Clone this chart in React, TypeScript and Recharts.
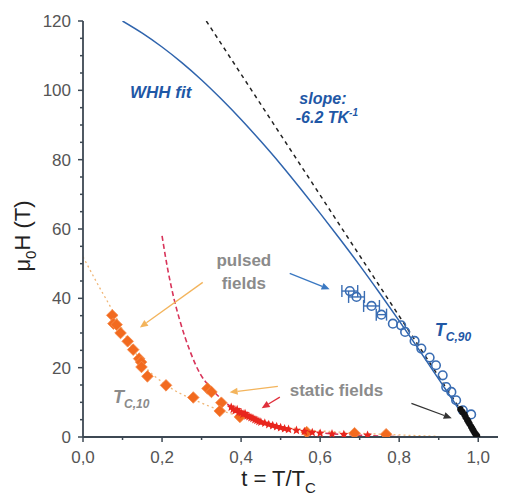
import React from 'react';
import {
  ComposedChart, XAxis, YAxis, Line, Scatter, ErrorBar,
  ReferenceLine, ReferenceDot, Label,
} from 'recharts';

const FONT = '"Liberation Sans", Arial, sans-serif';
const AXIS_COLOR = '#3d4853';
const TICK_COLOR = '#555555';
const BLUE = '#2f64ad';
const LABEL_BLUE = '#1f58a6';
const GRAY = '#8b8b8b';

const xTicks = [0, 0.1, 0.2, 0.3, 0.4, 0.5, 0.6, 0.7, 0.8, 0.9, 1.0];
const yTicks = [0, 5, 10, 15, 20, 25, 30, 35, 40, 45, 50, 55, 60, 65, 70, 75, 80, 85, 90, 95, 100, 105, 110, 115, 120];

// WHH fit (blue solid)
const whhFit = [
  { t: 0.1, h: 120 }, { t: 0.15, h: 116.5 }, { t: 0.2, h: 112.5 }, { t: 0.25, h: 108 },
  { t: 0.3, h: 103 }, { t: 0.35, h: 97.5 }, { t: 0.4, h: 91.6 }, { t: 0.45, h: 85.3 },
  { t: 0.5, h: 78.7 }, { t: 0.55, h: 71.7 }, { t: 0.6, h: 64.5 }, { t: 0.65, h: 57.1 },
  { t: 0.7, h: 49.5 }, { t: 0.75, h: 41.6 }, { t: 0.8, h: 33.5 }, { t: 0.85, h: 25.2 },
  { t: 0.9, h: 16.7 }, { t: 0.95, h: 8.2 }, { t: 1.0, h: 0 },
];

// initial slope (black dashed)
const slopeLine = [{ t: 0.312, h: 120 }, { t: 1.0, h: 0 }];

// static-field fit (red dashed)
const staticFit = [
  { t: 0.2, h: 58 }, { t: 0.215, h: 48 }, { t: 0.23, h: 40 }, { t: 0.245, h: 33.6 },
  { t: 0.27, h: 25 }, { t: 0.296, h: 18.3 }, { t: 0.321, h: 14.4 }, { t: 0.35, h: 11 },
  { t: 0.38, h: 8.3 }, { t: 0.42, h: 6 }, { t: 0.47, h: 3.8 }, { t: 0.53, h: 2.2 },
  { t: 0.6, h: 1.2 }, { t: 0.7, h: 0.5 }, { t: 0.8, h: 0.1 },
];

// Tc,10 fit (orange dotted)
const pulsedFit = [
  { t: 0, h: 52 }, { t: 0.04, h: 43.5 }, { t: 0.077, h: 36 }, { t: 0.1, h: 31 },
  { t: 0.152, h: 21 }, { t: 0.211, h: 15 }, { t: 0.296, h: 10 }, { t: 0.38, h: 6.5 },
  { t: 0.45, h: 4.2 }, { t: 0.55, h: 2.3 }, { t: 0.65, h: 1.4 }, { t: 0.8, h: 0.6 },
  { t: 0.9, h: 0.2 },
];

// Tc,10 data (orange diamonds)
const tc10Points = [
  { t: 0.074, h: 35.1 }, { t: 0.077, h: 32.7 }, { t: 0.085, h: 32.4 }, { t: 0.095, h: 30 },
  { t: 0.113, h: 27.6 }, { t: 0.127, h: 25.2 }, { t: 0.142, h: 22.6 }, { t: 0.147, h: 21.6 },
  { t: 0.148, h: 20.2 }, { t: 0.163, h: 17.5 }, { t: 0.21, h: 14.9 }, { t: 0.279, h: 11.4 },
  { t: 0.315, h: 14 }, { t: 0.325, h: 13 }, { t: 0.35, h: 9.9 }, { t: 0.346, h: 7.5 },
  { t: 0.397, h: 5.8 }, { t: 0.566, h: 1.4 }, { t: 0.687, h: 1.1 }, { t: 0.767, h: 0.8 },
];

// static fields (red stars)
const staticPoints = [
  { t: 0.375, h: 8.6 }, { t: 0.38, h: 8.0 }, { t: 0.385, h: 7.6 }, { t: 0.39, h: 7.9 },
  { t: 0.395, h: 7.2 }, { t: 0.4, h: 7.0 }, { t: 0.405, h: 6.6 }, { t: 0.41, h: 6.8 },
  { t: 0.415, h: 6.1 }, { t: 0.42, h: 5.9 }, { t: 0.425, h: 5.6 }, { t: 0.43, h: 5.4 },
  { t: 0.435, h: 5.0 }, { t: 0.44, h: 4.8 }, { t: 0.445, h: 4.5 }, { t: 0.45, h: 4.3 },
  { t: 0.46, h: 4.0 }, { t: 0.47, h: 3.6 }, { t: 0.48, h: 3.3 }, { t: 0.49, h: 3.0 },
  { t: 0.5, h: 2.7 }, { t: 0.51, h: 2.4 }, { t: 0.52, h: 2.2 }, { t: 0.54, h: 1.9 },
  { t: 0.56, h: 1.6 }, { t: 0.58, h: 1.3 }, { t: 0.6, h: 1.1 }, { t: 0.63, h: 0.9 },
  { t: 0.66, h: 0.7 }, { t: 0.72, h: 0.5 },
];

// Tc,90 pulsed-field data (blue open circles)
const tc90WithErr = [
  { t: 0.675, h: 42.1, e: 0.02 }, { t: 0.692, h: 40.4, e: 0.02 },
  { t: 0.73, h: 37.8, e: 0.02 }, { t: 0.755, h: 35.3, e: 0.013 },
];
const tc90Points = [
  { t: 0.784, h: 32.7 }, { t: 0.805, h: 32.2 }, { t: 0.815, h: 30.3 }, { t: 0.839, h: 27.7 },
  { t: 0.856, h: 25.5 }, { t: 0.877, h: 22.9 }, { t: 0.893, h: 20.7 }, { t: 0.91, h: 17.8 },
  { t: 0.919, h: 14.4 }, { t: 0.932, h: 13 }, { t: 0.944, h: 10.6 }, { t: 0.961, h: 7.7 },
  { t: 0.982, h: 6.5 },
];

// Tc,90 static-field data (black dense points)
const tc90Static = [
  { t: 0.955, h: 8 }, { t: 0.96, h: 7.2 }, { t: 0.965, h: 6.5 }, { t: 0.968, h: 5.8 },
  { t: 0.972, h: 5 }, { t: 0.975, h: 4.4 }, { t: 0.978, h: 3.8 }, { t: 0.982, h: 3 },
  { t: 0.985, h: 2.4 }, { t: 0.988, h: 1.8 }, { t: 0.991, h: 1.2 }, { t: 0.994, h: 0.7 },
  { t: 0.997, h: 0.3 },
];

// annotation arrows (from -> to, data coordinates)
const arrows = [
  { from: { x: 0.523, y: 47.2 }, to: { x: 0.624, y: 42.6 }, color: '#3a78c2' },
  { from: { x: 0.303, y: 44.6 }, to: { x: 0.144, y: 31.6 }, color: '#f3b45c' },
  { from: { x: 0.493, y: 14.6 }, to: { x: 0.371, y: 12.9 }, color: '#f3b45c' },
  { from: { x: 0.498, y: 11.5 }, to: { x: 0.452, y: 8.3 }, color: '#e0303c' },
  { from: { x: 0.831, y: 9.7 }, to: { x: 0.933, y: 5.4 }, color: '#333333' },
];

const fmtX = (v: number) => v.toFixed(1).replace('.', ',');
const isMajorX = (v: number) => Math.round(v * 10) % 2 === 0;
const isMajorY = (v: number) => Math.round(v) % 20 === 0;

const BottomTick = (p: any) => {
  const { x, y, payload } = p;
  const v = payload.value;
  const major = isMajorX(v);
  return (
    <g>
      <line x1={x} y1={y} x2={x} y2={y + (major ? 5 : 3)} stroke={AXIS_COLOR} strokeWidth={1.5} />
      {major && (
        <text x={x} y={y + 26} textAnchor="middle" fill={TICK_COLOR} fontSize={17} fontFamily={FONT}>
          {fmtX(v)}
        </text>
      )}
    </g>
  );
};

const TopTick = (p: any) => {
  const { x, y, payload } = p;
  const major = isMajorX(payload.value);
  return <line x1={x} y1={y} x2={x} y2={y + (major ? 5 : 3)} stroke={AXIS_COLOR} strokeWidth={1.5} />;
};

const LeftTick = (p: any) => {
  const { x, y, payload } = p;
  const v = payload.value;
  const major = isMajorY(v);
  return (
    <g>
      <line x1={x} y1={y} x2={x - (major ? 5 : 3)} y2={y} stroke={AXIS_COLOR} strokeWidth={1.5} />
      {major && (
        <text x={x - 12} y={y + 6} textAnchor="end" fill={TICK_COLOR} fontSize={17} fontFamily={FONT}>
          {v}
        </text>
      )}
    </g>
  );
};

const RightTick = (p: any) => {
  const { x, y, payload } = p;
  const major = isMajorY(payload.value);
  return <line x1={x} y1={y} x2={x - (major ? 5 : 3)} y2={y} stroke={AXIS_COLOR} strokeWidth={1.5} />;
};

const Diamond = (p: any) => {
  const { cx, cy } = p;
  const s = 5.8;
  return (
    <polygon
      points={`${cx},${cy - s} ${cx + s},${cy} ${cx},${cy + s} ${cx - s},${cy}`}
      fill="#f26a1f"
      stroke="#f58a4a"
      strokeWidth={0.8}
    />
  );
};

const Star = (p: any) => {
  const { cx, cy } = p;
  const pts: string[] = [];
  for (let i = 0; i < 10; i++) {
    const r = i % 2 === 0 ? 4.8 : 2.1;
    const a = -Math.PI / 2 + (i * Math.PI) / 5;
    pts.push(`${cx + r * Math.cos(a)},${cy + r * Math.sin(a)}`);
  }
  return <polygon points={pts.join(' ')} fill="#e8261e" />;
};

const OpenCircle = (p: any) => {
  const { cx, cy } = p;
  return <circle cx={cx} cy={cy} r={4.3} fill="none" stroke="#3a6db3" strokeWidth={1.6} />;
};

const BlackDot = (p: any) => {
  const { cx, cy } = p;
  return <circle cx={cx} cy={cy} r={3.2} fill="#111111" />;
};

const makeArrow = (color: string) => (p: any) => {
  const { x1, y1, x2, y2 } = p;
  const dx = x2 - x1;
  const dy = y2 - y1;
  const L = Math.hypot(dx, dy) || 1;
  const ux = dx / L;
  const uy = dy / L;
  const hl = 8;
  const hw = 3.5;
  const bx = x2 - ux * hl;
  const by = y2 - uy * hl;
  return (
    <g>
      <line x1={x1} y1={y1} x2={bx} y2={by} stroke={color} strokeWidth={1.3} />
      <polygon points={`${x2},${y2} ${bx - uy * hw},${by + ux * hw} ${bx + uy * hw},${by - ux * hw}`} fill={color} />
    </g>
  );
};

const textBase = { fontFamily: FONT, fontWeight: 'bold' as const };

const XTitle = (p: any) => {
  const vb = p.viewBox || { x: 83, y: 437, width: 415 };
  const cx = vb.x + vb.width / 2 - 12;
  return (
    <text x={cx} y={vb.y + 49} textAnchor="middle" fill="#222" fontSize={22} fontFamily={FONT}>
      t = T/T<tspan fontSize={15} dy={7}>C</tspan>
    </text>
  );
};

const YTitle = () => {
  const x = 30;
  const y = 236;
  return (
    <text x={x} y={y} transform={`rotate(-90, ${x}, ${y})`} textAnchor="middle" fill="#222" fontSize={22} fontFamily={FONT}>
      μ<tspan fontSize={15} dy={6}>0</tspan><tspan dy={-6}>H (T)</tspan>
    </text>
  );
};

export default function App() {
  return (
    <div style={{ position: 'absolute', left: 0, top: 0, background: '#fff' }}>
      <ComposedChart width={506} height={497} margin={{ top: 21, right: 8, bottom: 30, left: 0 }}>
        <XAxis
          xAxisId="bottom" dataKey="t" type="number" domain={[0, 1.05]} ticks={xTicks}
          interval={0} allowDataOverflow tickSize={0} tickMargin={0} height={30}
          axisLine={{ stroke: AXIS_COLOR, strokeWidth: 1.8 }} tickLine={false} tick={BottomTick}
        >
          <Label content={XTitle} />
        </XAxis>
        <XAxis
          xAxisId="top" orientation="top" dataKey="t" type="number" domain={[0, 1.05]} ticks={xTicks}
          interval={0} allowDataOverflow tickSize={0} tickMargin={0} height={0}
          axisLine={{ stroke: AXIS_COLOR, strokeWidth: 1.8 }} tickLine={false} tick={TopTick}
        />
        <YAxis
          yAxisId="left" dataKey="h" type="number" domain={[0, 120]} ticks={yTicks}
          interval={0} allowDataOverflow tickSize={0} tickMargin={0} width={83}
          axisLine={{ stroke: AXIS_COLOR, strokeWidth: 1.8 }} tickLine={false} tick={LeftTick}
        >
          <Label content={YTitle} />
        </YAxis>
        <YAxis
          yAxisId="right" orientation="right" dataKey="h" type="number" domain={[0, 120]} ticks={yTicks}
          interval={0} allowDataOverflow tickSize={0} tickMargin={0} width={0}
          axisLine={{ stroke: AXIS_COLOR, strokeWidth: 1.8 }} tickLine={false} tick={RightTick}
        />

        <Line xAxisId="bottom" yAxisId="left" data={pulsedFit} dataKey="h" type="monotone"
          stroke="#f0b676" strokeWidth={1.3} strokeDasharray="2 3" dot={false} isAnimationActive={false} />
        <Line xAxisId="bottom" yAxisId="left" data={staticFit} dataKey="h" type="monotone"
          stroke="#d8345a" strokeWidth={1.6} strokeDasharray="5 3" dot={false} isAnimationActive={false} />
        <Line xAxisId="bottom" yAxisId="left" data={slopeLine} dataKey="h" type="linear"
          stroke="#222" strokeWidth={1.5} strokeDasharray="4 4" dot={false} isAnimationActive={false} />
        <Line xAxisId="bottom" yAxisId="left" data={whhFit} dataKey="h" type="monotone"
          stroke={BLUE} strokeWidth={1.5} dot={false} isAnimationActive={false} />

        <Scatter xAxisId="bottom" yAxisId="left" data={tc10Points} dataKey="h" shape={Diamond} isAnimationActive={false} />
        <Scatter xAxisId="bottom" yAxisId="left" data={staticPoints} dataKey="h" shape={Star} isAnimationActive={false} />
        <Scatter xAxisId="bottom" yAxisId="left" data={tc90WithErr} dataKey="h" shape={OpenCircle} isAnimationActive={false}>
          <ErrorBar dataKey="e" direction="x" width={6} stroke="#3a6db3" strokeWidth={1.4} isAnimationActive={false} />
        </Scatter>
        <Scatter xAxisId="bottom" yAxisId="left" data={tc90Points} dataKey="h" shape={OpenCircle} isAnimationActive={false} />
        <Scatter xAxisId="bottom" yAxisId="left" data={tc90Static} dataKey="h" shape={BlackDot} isAnimationActive={false} />

        {arrows.map((a, i) => (
          <ReferenceLine key={i} xAxisId="bottom" yAxisId="left" segment={[a.from, a.to]}
            ifOverflow="visible" shape={makeArrow(a.color)} />
        ))}

        <ReferenceDot xAxisId="bottom" yAxisId="left" x={0.119} y={97.7} r={0} ifOverflow="visible"
          shape={(p: any) => (
            <text x={p.cx} y={p.cy} fill={LABEL_BLUE} fontSize={17} fontStyle="italic" {...textBase}>WHH fit</text>
          )} />
        <ReferenceDot xAxisId="bottom" yAxisId="left" x={0.607} y={96.2} r={0} ifOverflow="visible"
          shape={(p: any) => (
            <text x={p.cx} y={p.cy} textAnchor="middle" fill={LABEL_BLUE} fontSize={16} fontStyle="italic" {...textBase}>slope:</text>
          )} />
        <ReferenceDot xAxisId="bottom" yAxisId="left" x={0.617} y={90.5} r={0} ifOverflow="visible"
          shape={(p: any) => (
            <text x={p.cx} y={p.cy} textAnchor="middle" fill={LABEL_BLUE} fontSize={16} fontStyle="italic" {...textBase}>
              -6.2 TK<tspan fontSize={10} dy={-7}>-1</tspan>
            </text>
          )} />
        <ReferenceDot xAxisId="bottom" yAxisId="left" x={0.89} y={29} r={0} ifOverflow="visible"
          shape={(p: any) => (
            <text x={p.cx} y={p.cy} fill={LABEL_BLUE} fontSize={18} fontStyle="italic" {...textBase}>
              T<tspan fontSize={12} dy={5}>C,90</tspan>
            </text>
          )} />
        <ReferenceDot xAxisId="bottom" yAxisId="left" x={0.076} y={9.7} r={0} ifOverflow="visible"
          shape={(p: any) => (
            <text x={p.cx} y={p.cy} fill={GRAY} fontSize={18} fontStyle="italic" {...textBase}>
              T<tspan fontSize={12} dy={5}>C,10</tspan>
            </text>
          )} />
        <ReferenceDot xAxisId="bottom" yAxisId="left" x={0.407} y={49.2} r={0} ifOverflow="visible"
          shape={(p: any) => (
            <text x={p.cx} y={p.cy} textAnchor="middle" fill={GRAY} fontSize={17} {...textBase}>pulsed</text>
          )} />
        <ReferenceDot xAxisId="bottom" yAxisId="left" x={0.407} y={42.6} r={0} ifOverflow="visible"
          shape={(p: any) => (
            <text x={p.cx} y={p.cy} textAnchor="middle" fill={GRAY} fontSize={17} {...textBase}>fields</text>
          )} />
        <ReferenceDot xAxisId="bottom" yAxisId="left" x={0.523} y={11.7} r={0} ifOverflow="visible"
          shape={(p: any) => (
            <text x={p.cx} y={p.cy} fill={GRAY} fontSize={17} {...textBase}>static fields</text>
          )} />
      </ComposedChart>
    </div>
  );
}
